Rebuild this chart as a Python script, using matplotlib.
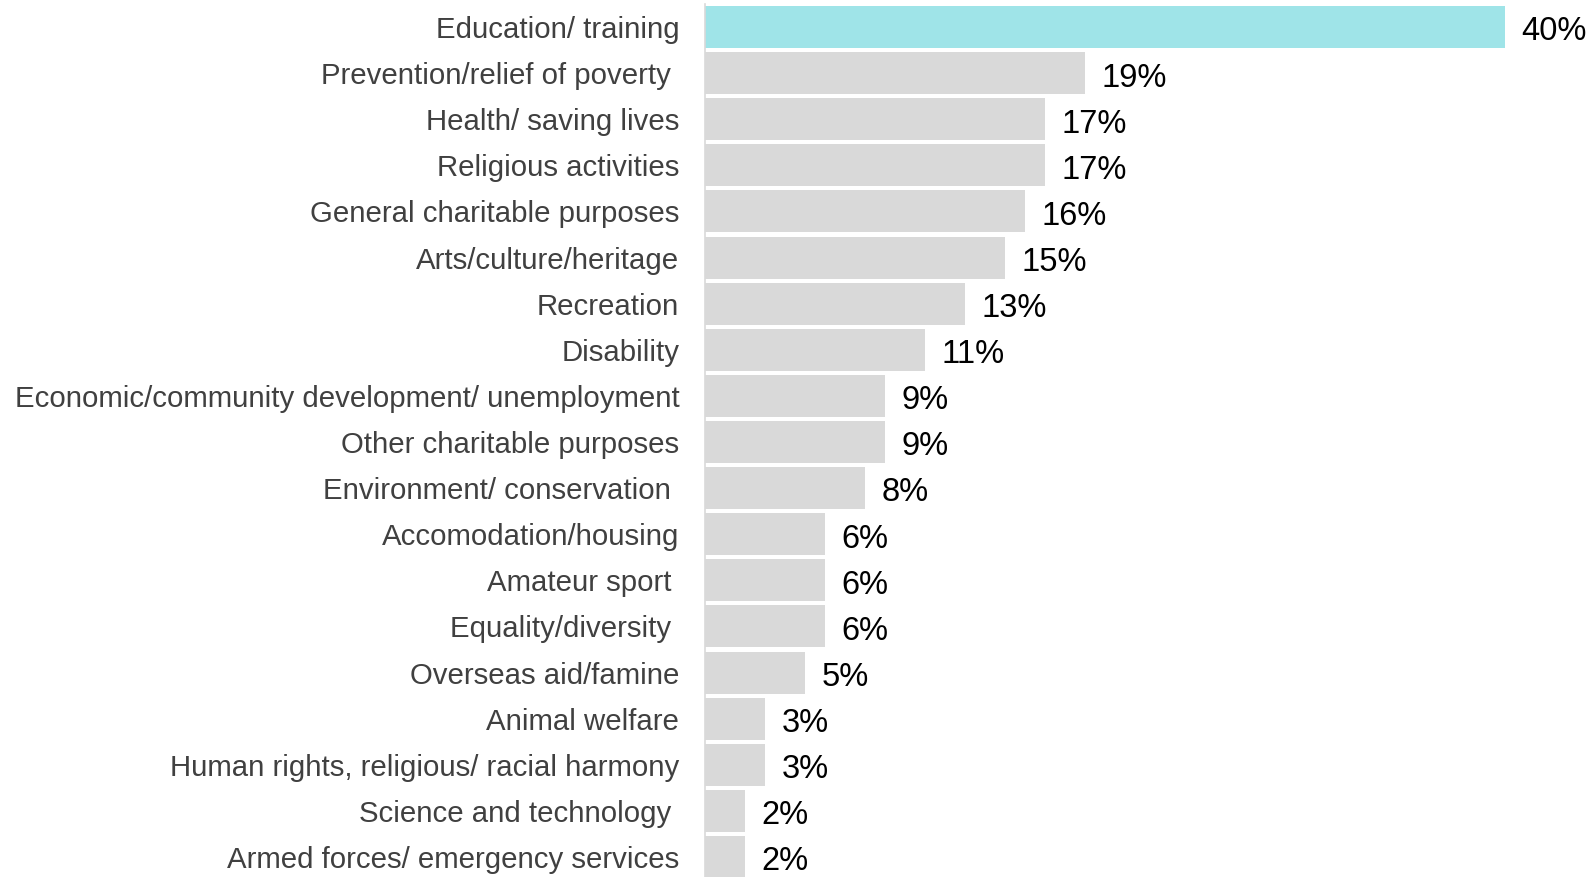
import matplotlib.pyplot as plt

categories = [
    "Education/ training",
    "Prevention/relief of poverty ",
    "Health/ saving lives",
    "Religious activities",
    "General charitable purposes",
    "Arts/culture/heritage",
    "Recreation",
    "Disability",
    "Economic/community development/ unemployment",
    "Other charitable purposes",
    "Environment/ conservation ",
    "Accomodation/housing",
    "Amateur sport ",
    "Equality/diversity ",
    "Overseas aid/famine",
    "Animal welfare",
    "Human rights, religious/ racial harmony",
    "Science and technology ",
    "Armed forces/ emergency services",
]
values = [40, 19, 17, 17, 16, 15, 13, 11, 9, 9, 8, 6, 6, 6, 5, 3, 3, 2, 2]
highlight = "Education/ training"

plt.rcParams["font.family"] = ["Liberation Sans", "DejaVu Sans"]

fig = plt.figure(figsize=(15.91, 8.77), dpi=100)
ax = fig.add_axes([705 / 1591, -3 / 877, 1 - 705 / 1591, 876 / 877])

colors = ["#9FE4E8" if c == highlight else "#D9D9D9" for c in categories]
pos = list(range(len(categories)))
ax.barh(pos, values, height=0.91, color=colors)

# value labels sit a touch below the bar centre
for p, v in zip(pos, values):
    ax.annotate(f"{v}%", (v, p), xytext=(12, -3.5), textcoords="offset points",
                va="center", ha="left", fontsize=23.5, color="black")

ax.set_yticks(pos)
ax.set_yticklabels(categories, fontsize=21.2, color="#404040")
ax.tick_params(axis="y", length=0, pad=18.5)
ax.set_xticks([])
ax.set_xlim(0, (1591 - 705) / 20)
ax.set_ylim(len(categories) - 0.5, -0.5)

for s in ["top", "right", "bottom"]:
    ax.spines[s].set_visible(False)
ax.spines["left"].set_color("#D9D9D9")
ax.spines["left"].set_linewidth(1.2)

fig.savefig("out.png", dpi=100)
